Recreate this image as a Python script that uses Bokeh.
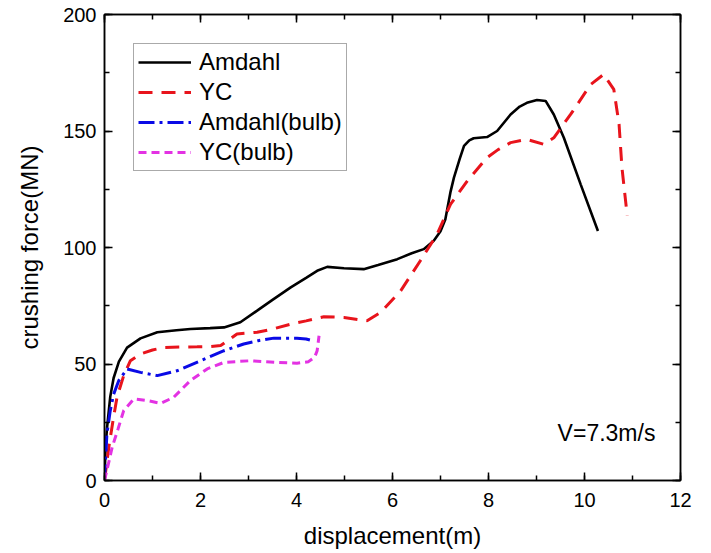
from bokeh.plotting import figure
from bokeh.models import (Legend, LegendItem, LinearAxis, SingleIntervalTicker,
                          Range1d, Label, CustomJSTickFormatter)
from bokeh.embed import file_html
from bokeh.resources import INLINE

# ---- data ----
amdahl_x = [0, 0.02, 0.05, 0.12, 0.19, 0.3, 0.47, 0.75, 1.1, 1.5, 1.79, 2.2, 2.49,
            2.83, 3.18, 3.5, 3.88, 4.2, 4.43, 4.64, 4.99, 5.4, 5.7, 6.1, 6.4, 6.65,
            6.86, 7.0, 7.1, 7.21, 7.28, 7.4, 7.49, 7.6, 7.69, 7.97, 8.18, 8.46,
            8.65, 8.8, 9.01, 9.19, 9.36, 9.57, 9.92, 10.28]
amdahl_y = [0, 13, 22, 36, 44, 51, 57, 61, 63.6, 64.5, 65, 65.4, 65.7,
            67.9, 72.9, 77.5, 82.9, 87, 90, 91.7, 91.1, 90.7, 92.5, 95, 97.5, 99.3,
            102.9, 107, 112, 124, 130, 138, 143.6, 146, 146.9, 147.4, 150, 157.1,
            160.5, 162.1, 163.3, 162.9, 157.1, 147.1, 127.1, 107.1]

yc_x = [0, 0.05, 0.09, 0.18, 0.26, 0.4, 0.54, 0.75, 1.0, 1.24, 1.6, 1.93, 2.2,
        2.42, 2.6, 2.76, 3.18, 3.5, 3.88, 4.2, 4.57, 4.99, 5.33, 5.47, 5.75,
        6.17, 6.58, 6.93, 7.21, 7.56, 7.97, 8.2, 8.46, 8.8, 9.15, 9.36, 9.71,
        10.13, 10.4, 10.61, 10.72, 10.78, 10.89]
yc_y = [0, 8, 14.3, 26, 35.7, 45, 51.4, 54.3, 56, 57.1, 57.3, 57.4, 57.5,
        57.9, 60.5, 62.9, 63.6, 65, 67.1, 68.5, 70.3, 70, 68.9, 68.6, 72.1,
        81.4, 94.3, 105.7, 118.6, 128.6, 138.6, 142, 145, 146.4, 144.3, 147.1,
        157.1, 170, 174.3, 167.9, 152.9, 134.3, 113.6]

amdahl_bulb_x = [0, 0.05, 0.12, 0.19, 0.3, 0.47, 0.75, 1.1, 1.51, 2.0, 2.49,
                 2.9, 3.2, 3.53, 4.01, 4.2, 4.33]
amdahl_bulb_y = [0, 20, 30, 37, 43, 47.9, 46.4, 45, 47.1, 51.4, 55.7,
                 58.6, 60, 61.1, 61.1, 60.7, 60]

yc_bulb_x = [0, 0.08, 0.16, 0.28, 0.4, 0.61, 0.89, 1.17, 1.44, 1.79, 2.14,
             2.49, 3.04, 3.6, 4.01, 4.25, 4.38, 4.43, 4.47]
yc_bulb_y = [0, 7, 14.3, 22, 30, 35, 34.3, 33.1, 35.7, 42.9, 47.9,
             50.7, 51.4, 50.7, 50.3, 51, 53, 55.7, 62.1]

series_names = ["Amdahl", "YC", "Amdahl(bulb)", "YC(bulb)"]
x_label = "displacement(m)"
y_label = "crushing force(MN)"
note_text = "V=7.3m/s"
note_x, note_y = 9.44, 20.6

FONT = "Liberation Sans"

p = figure(width=711, height=553, output_backend="svg", toolbar_location=None,
           x_range=Range1d(0, 12), y_range=Range1d(0, 200),
           min_border_left=104, min_border_right=31, min_border_top=14,
           min_border_bottom=73)
p.background_fill_color = "white"
p.border_fill_color = "white"
p.xgrid.visible = False
p.ygrid.visible = False
p.outline_line_color = "black"
p.outline_line_width = 1.5

xt = SingleIntervalTicker(interval=2, num_minor_ticks=2)
yt = SingleIntervalTicker(interval=50, num_minor_ticks=2)


def style_axis(ax, labels=True):
    ax.axis_line_color = "black"
    ax.axis_line_width = 1.5
    ax.major_tick_in = 8
    ax.major_tick_out = 0
    ax.minor_tick_in = 5
    ax.minor_tick_out = 0
    ax.major_tick_line_width = 1.5
    ax.minor_tick_line_width = 1.5
    ax.major_tick_line_color = "black"
    ax.minor_tick_line_color = "black"
    ax.major_label_text_font = FONT
    ax.major_label_text_font_size = "20px"
    ax.major_label_text_color = "black"
    ax.axis_label_text_font = FONT
    ax.axis_label_text_font_size = "24px"
    ax.axis_label_text_font_style = "normal"
    ax.axis_label_text_color = "black"
    if not labels:
        ax.formatter = CustomJSTickFormatter(code="return ''")
        ax.major_label_standoff = 0


p.xaxis.ticker = xt
p.yaxis.ticker = yt
p.xaxis.axis_label = x_label
p.yaxis.axis_label = y_label
style_axis(p.xaxis[0])
style_axis(p.yaxis[0])
p.xaxis.major_label_standoff = 12
p.xaxis.axis_label_standoff = 12
p.yaxis.major_label_standoff = 8
p.yaxis.axis_label_standoff = 17

top = LinearAxis(ticker=SingleIntervalTicker(interval=2, num_minor_ticks=2))
right = LinearAxis(ticker=SingleIntervalTicker(interval=50, num_minor_ticks=2))
style_axis(top, labels=False)
style_axis(right, labels=False)
p.add_layout(top, "above")
p.add_layout(right, "right")

r1 = p.line(amdahl_x, amdahl_y, line_color="black", line_width=2.6)
r2 = p.line(yc_x, yc_y, line_color="#e8141c", line_width=3, line_dash="14 9")
r3 = p.line(amdahl_bulb_x, amdahl_bulb_y, line_color="#0a0ae6", line_width=3,
            line_dash="16 5 3 5")
r4 = p.line(yc_bulb_x, yc_bulb_y, line_color="#e332e3", line_width=3,
            line_dash="8 5")

legend = Legend(items=[LegendItem(label=series_names[0], renderers=[r1]),
                       LegendItem(label=series_names[1], renderers=[r2]),
                       LegendItem(label=series_names[2], renderers=[r3]),
                       LegendItem(label=series_names[3], renderers=[r4])],
                location="top_left")
legend.margin = 29
legend.padding = 4
legend.spacing = 2
legend.glyph_width = 53
legend.label_standoff = 8
legend.label_text_font = FONT
legend.label_text_font_size = "24px"
legend.label_text_color = "black"
legend.border_line_color = "#555555"
legend.border_line_width = 1
legend.background_fill_color = "white"
legend.background_fill_alpha = 1
p.add_layout(legend, "center")

note = Label(x=note_x, y=note_y, text=note_text, text_font=FONT,
             text_font_size="23px", text_color="black",
             text_baseline="middle", text_align="left")
p.add_layout(note)

open("out.html", "w").write(file_html(p, INLINE))
